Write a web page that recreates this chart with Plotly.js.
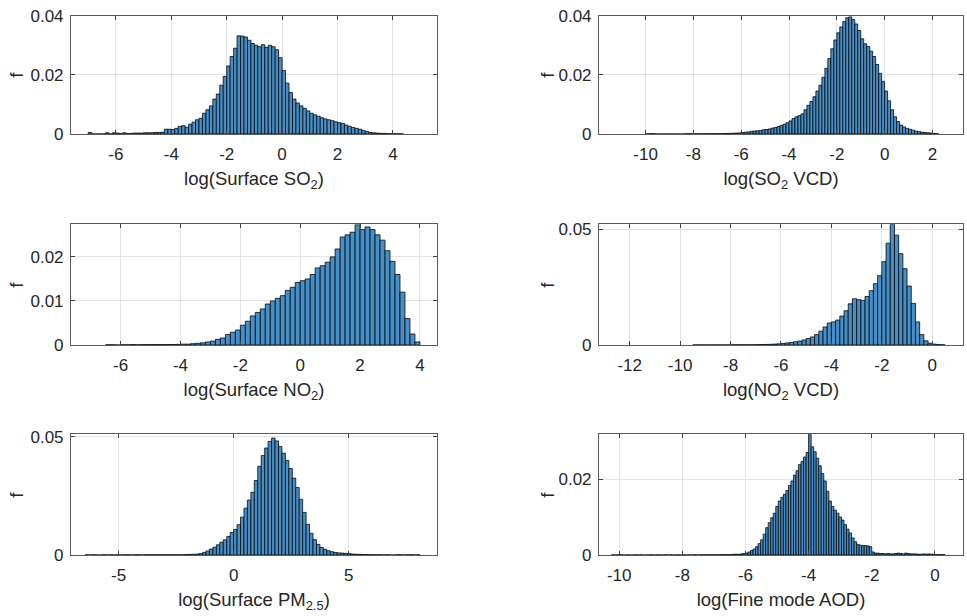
<!DOCTYPE html>
<html><head><meta charset="utf-8">
<script src="https://cdn.plot.ly/plotly-3.0.1.min.js"></script>
<style>html,body{margin:0;padding:0;background:#fff}#chart{width:967px;height:616px}</style>
</head><body><div id="chart"></div>
<script>
// ---------- DATA ----------
const axisLabels = [
  'log(Surface SO<sub>2</sub>)',
  'log(SO<sub>2</sub> VCD)',
  'log(Surface NO<sub>2</sub>)',
  'log(NO<sub>2</sub> VCD)',
  'log(Surface PM<sub>2.5</sub>)',
  'log(Fine mode AOD)'
];
const yLabel = 'f';
// bin left edge of first bin, bin width, relative frequencies
const surfSO2Start = -7.0, surfSO2Width = 0.125;
const surfSO2Freq = [0.0005,0,0,0,0,0.0004,0,0.0004,0.0003,0.0001,0.0004,0.0001,0.0002,0.0003,0.0003,0.0003,0.0004,0.0004,0.0004,0.0005,0.0005,0.0006,
0.0016,0.0016,0.0015,0.0019,0.0026,0.0028,0.0023,0.0033,0.0040,0.0048,0.0053,0.0070,0.0082,0.0095,0.0118,0.0135,0.0165,0.0195,0.0230,0.0262,0.0290,0.0332,0.0331,0.0328,0.0317,0.0306,0.0300,0.0295,0.0302,0.0293,0.0300,0.0295,0.0285,0.0258,0.0215,0.0172,0.0140,0.0118,0.0105,0.0095,0.0087,0.0078,0.0070,0.0065,0.0060,0.0055,0.0051,0.0048,0.0045,0.0041,0.0038,0.0036,0.0030,0.0026,0.0022,0.0019,0.0016,0.0012,0.0008,0.0005,0.0004,0.0003,0.0002,0.0002,0.0001,0.0001,0.00005,0.00005,0.00005];

const vcdSO2Start = -10.0, vcdSO2Width = 0.125;
const vcdSO2Freq = [0,0.0001,0.0001,0,0,0,0,0,0,0,0,0,0,0.00005,0.0001,0.00005,0.00005,0.00005,0.00005,0.00005,0.00008,0.00008,0.0001,0.0001,0.0001,0.00012,0.00015,0.00018,0.0002,0.00025,0.0003,0.00035,
0.0005,0.0006,0.0007,0.0009,0.0010,0.0011,0.0012,0.0014,0.0015,0.0017,0.0020,0.0022,0.0025,0.0029,0.0033,0.0038,0.0044,0.0052,0.0058,0.0062,0.0068,0.0082,0.0097,0.0110,0.0126,0.0145,0.0165,0.0192,0.0222,0.0255,0.0288,0.0318,0.0342,0.0362,0.0380,0.0393,0.0396,0.0387,0.0372,0.0350,0.0322,0.0305,0.0296,0.0280,0.0262,0.0235,0.0205,0.0178,0.0145,0.0112,0.0082,0.0058,0.0042,0.0030,0.0024,0.0019,0.0016,0.0013,0.0010,0.0008,0.0006,0.0005,0.0004,0.0003,0.0002,0.0001];

const surfNO2Start = -6.5, surfNO2Width = 1/6;
const surfNO2Freq = [0.00005,0.00005,0,0.00005,0.00005,0.0001,0.00005,0.00008,0.0001,0.0001,0.0001,0.0001,0.0001,0.00012,0.00015,0.0002,0.0002,0.0003,0.0004,0.0005,0.0007,0.0009,0.0013,0.0016,0.0024,0.0029,0.0034,0.0045,0.0054,0.0066,0.0074,0.0082,0.0093,0.0100,0.0106,0.0112,0.0124,0.0131,0.0142,0.0146,0.0150,0.0160,0.0175,0.0180,0.0188,0.0200,0.0218,0.0245,0.0250,0.0256,0.0273,0.0262,0.0268,0.0262,0.0250,0.0238,0.0214,0.0190,0.0160,0.0120,0.0060,0.0025,0.0007];

const vcdNO2Start = -9.5, vcdNO2Width = 1/6;
const vcdNO2Freq = [0.00005,0.00005,0.00005,0.00005,0.00005,0.00005,0.00005,0.00005,0.00005,0.00008,0.0001,0.0001,0.0001,0.0001,0.00012,0.00015,0.0002,0.00025,0.0003,0.0004,0.0005,0.0007,0.0009,0.0011,0.0014,0.0017,0.0022,0.0028,0.0035,0.0045,0.0060,0.0078,0.0095,0.0100,0.0108,0.0125,0.0148,0.0178,0.0200,0.0196,0.0193,0.0210,0.0235,0.0265,0.0300,0.0360,0.0440,0.0522,0.0475,0.0395,0.0330,0.0255,0.0180,0.0100,0.0045,0.0018,0.0008,0.0004,0.0002,0.0001];

const surfPMStart = -6.45, surfPMWidth = 0.15;
const surfPMFreq = [0.0001,0,0.0001,0,0,0.0001,0,0.0001,0,0.0001,0,0.0001,0.0001,0,0.0001,0.0001,0,0.0001,0.0001,0.0001,0.0001,0.0001,0.0001,0.0001,0.0001,0.0001,0.0001,0.00012,0.00015,0.0002,
0.00025,0.0003,0.0004,0.0006,0.0011,0.0017,0.0025,0.0033,0.0043,0.0054,0.0064,0.0078,0.0095,0.0108,0.0128,0.0160,0.0198,0.0232,0.0265,0.0315,0.0375,0.0420,0.0452,0.0480,0.0494,0.0482,0.0458,0.0430,0.0400,0.0365,0.0325,0.0285,0.0235,0.0180,0.0130,0.0092,0.0065,0.0045,0.0032,0.0024,0.0018,0.0014,0.0011,0.0009,0.0008,0.0007,0.0006,0.0004,0.0003,0.0003,0.0002,0.0002,0.00015,0.0001,
0.0001,0.0001,0,0.0001,0,0,0.0001,0.0001,0,0.0001,0.0001,0,0.0001];

const aodStart = -10.24, aodWidth = 0.08;
const aodFreq = [0.00005,0,0.00005,0.0001,0,0,0.00005,0,0,0.00005,0,0.00005,0,0,0,0.00005,0,0,0.00005,0,0,0.00005,0,0.00005,0,0,0.00005,0,0.00005,0,0.00005,0,0.00005,0.00005,0,0.00005,0.00005,0.00005,0.00005,0.00005,0.00005,0.00005,0.00005,0.0001,0.0001,0.0001,0.0001,
0.0001,0.0002,0.0002,0.0002,0.0003,0.0004,0.0005,0.0008,0.0012,0.0016,0.0022,0.0030,0.0040,0.0055,0.0072,0.0085,0.0098,0.0110,0.0128,0.0142,0.0152,0.0160,0.0170,0.0183,0.0195,0.0210,0.0222,0.0238,0.0246,0.0258,0.0270,0.0318,0.0285,0.0272,0.0255,0.0235,0.0215,0.0195,0.0168,0.0142,0.0128,0.0118,0.0110,0.0100,0.0092,0.0080,0.0068,0.0058,0.0045,0.0035,0.0028,0.0026,0.0025,0.0025,0.0024,0.0022,0.0008,0.0005,0.0005,0.0004,0.0004,0.0003,0.0004,0.0003,0.0003,0.0004,0.0005,0.0004,0.0003,0.0005,0.0004,0.0003,0.0003,0.0003,0.0002,0.0002,0.0003,0.0002,0.0003,0.0002,0.0002,0.0001,0.0001,0.0001,0.0001];

// tick values / labels
const xTickVals = [
  [-6,-4,-2,0,2,4],
  [-10,-8,-6,-4,-2,0,2],
  [-6,-4,-2,0,2,4],
  [-12,-10,-8,-6,-4,-2,0],
  [-5,0,5],
  [-10,-8,-6,-4,-2,0]
];
const xTickText = [
  ['-6','-4','-2','0','2','4'],
  ['-10','-8','-6','-4','-2','0','2'],
  ['-6','-4','-2','0','2','4'],
  ['-12','-10','-8','-6','-4','-2','0'],
  ['-5','0','5'],
  ['-10','-8','-6','-4','-2','0']
];
const yTickVals = [
  [0,0.02,0.04],[0,0.02,0.04],[0,0.01,0.02],[0,0.05],[0,0.05],[0,0.02]
];
const yTickText = [
  ['0','0.02','0.04'],['0','0.02','0.04'],['0','0.01','0.02'],['0','0.05'],['0','0.05'],['0','0.02']
];

// ---------- BUILD ----------
const panels = [
  [surfSO2Start, surfSO2Width, surfSO2Freq],
  [vcdSO2Start, vcdSO2Width, vcdSO2Freq],
  [surfNO2Start, surfNO2Width, surfNO2Freq],
  [vcdNO2Start, vcdNO2Width, vcdNO2Freq],
  [surfPMStart, surfPMWidth, surfPMFreq],
  [aodStart, aodWidth, aodFreq]
];
const xRanges = [[-7.62,5.59],[-11.95,3.28],[-7.66,4.57],[-13.22,1.22],[-7.07,8.84],[-10.64,0.89]];
const yRanges = [[0,0.04],[0,0.04],[0,0.0274],[0,0.0522],[0,0.051],[0,0.0318]];
const xDomains = [[0.0734,0.4519],[0.6194,0.9959]];
const yDomains = [[0.7825,0.9745],[0.4399,0.6359],[0.0990,0.2950]];
const yTitleX = [17/967, 548/967];

const traces = [];
const annotations = [];
const layout = {
  width: 967, height: 616,
  margin: {l:0, r:0, t:0, b:0},
  paper_bgcolor: '#ffffff', plot_bgcolor: '#ffffff',
  showlegend: false, bargap: 0,
  font: {family: 'Liberation Sans, Arial, sans-serif', size: 17, color: '#262626'}
};
panels.forEach((p, k) => {
  const [start, w, vals] = p;
  const xs = vals.map((_, i) => start + w * (i + 0.5));
  const sfx = k === 0 ? '' : String(k + 1);
  traces.push({
    type: 'bar', x: xs, y: vals, width: w,
    xaxis: 'x' + sfx, yaxis: 'y' + sfx,
    marker: {color: '#4590c8', line: {color: 'rgba(10,10,10,0.9)', width: 0.9}},
    hoverinfo: 'skip'
  });
  const col = k % 2, row = Math.floor(k / 2);
  const common = {
    showgrid: true, gridcolor: '#e3e3e3', gridwidth: 1,
    zeroline: false, showline: true, linecolor: '#5a5a5a', linewidth: 1,
    mirror: 'ticks', ticks: 'inside', ticklen: 4, tickcolor: '#404040', tickwidth: 1,
    tickfont: {size: 17, color: '#262626'}
  };
  layout['xaxis' + sfx] = Object.assign({}, common, {
    domain: xDomains[col], range: xRanges[k], anchor: 'y' + sfx,
    tickmode: 'array', tickvals: xTickVals[k], ticktext: xTickText[k],
    ticklabelstandoff: 5,
    title: {text: axisLabels[k], font: {size: 18.5, color: '#262626'}, standoff: 8}
  });
  layout['yaxis' + sfx] = Object.assign({}, common, {
    domain: yDomains[row], range: yRanges[k], anchor: 'x' + sfx,
    tickmode: 'array', tickvals: yTickVals[k], ticktext: yTickText[k],
    ticklabelstandoff: 3
  });
  annotations.push({
    text: yLabel, textangle: -90, showarrow: false,
    xref: 'paper', yref: 'paper',
    x: yTitleX[col], y: (yDomains[row][0] + yDomains[row][1]) / 2,
    xanchor: 'center', yanchor: 'middle',
    font: {size: 19, color: '#262626'}
  });
});
layout.annotations = annotations;
Plotly.newPlot('chart', traces, layout, {staticPlot: true, displayModeBar: false});
</script>
</body></html>
